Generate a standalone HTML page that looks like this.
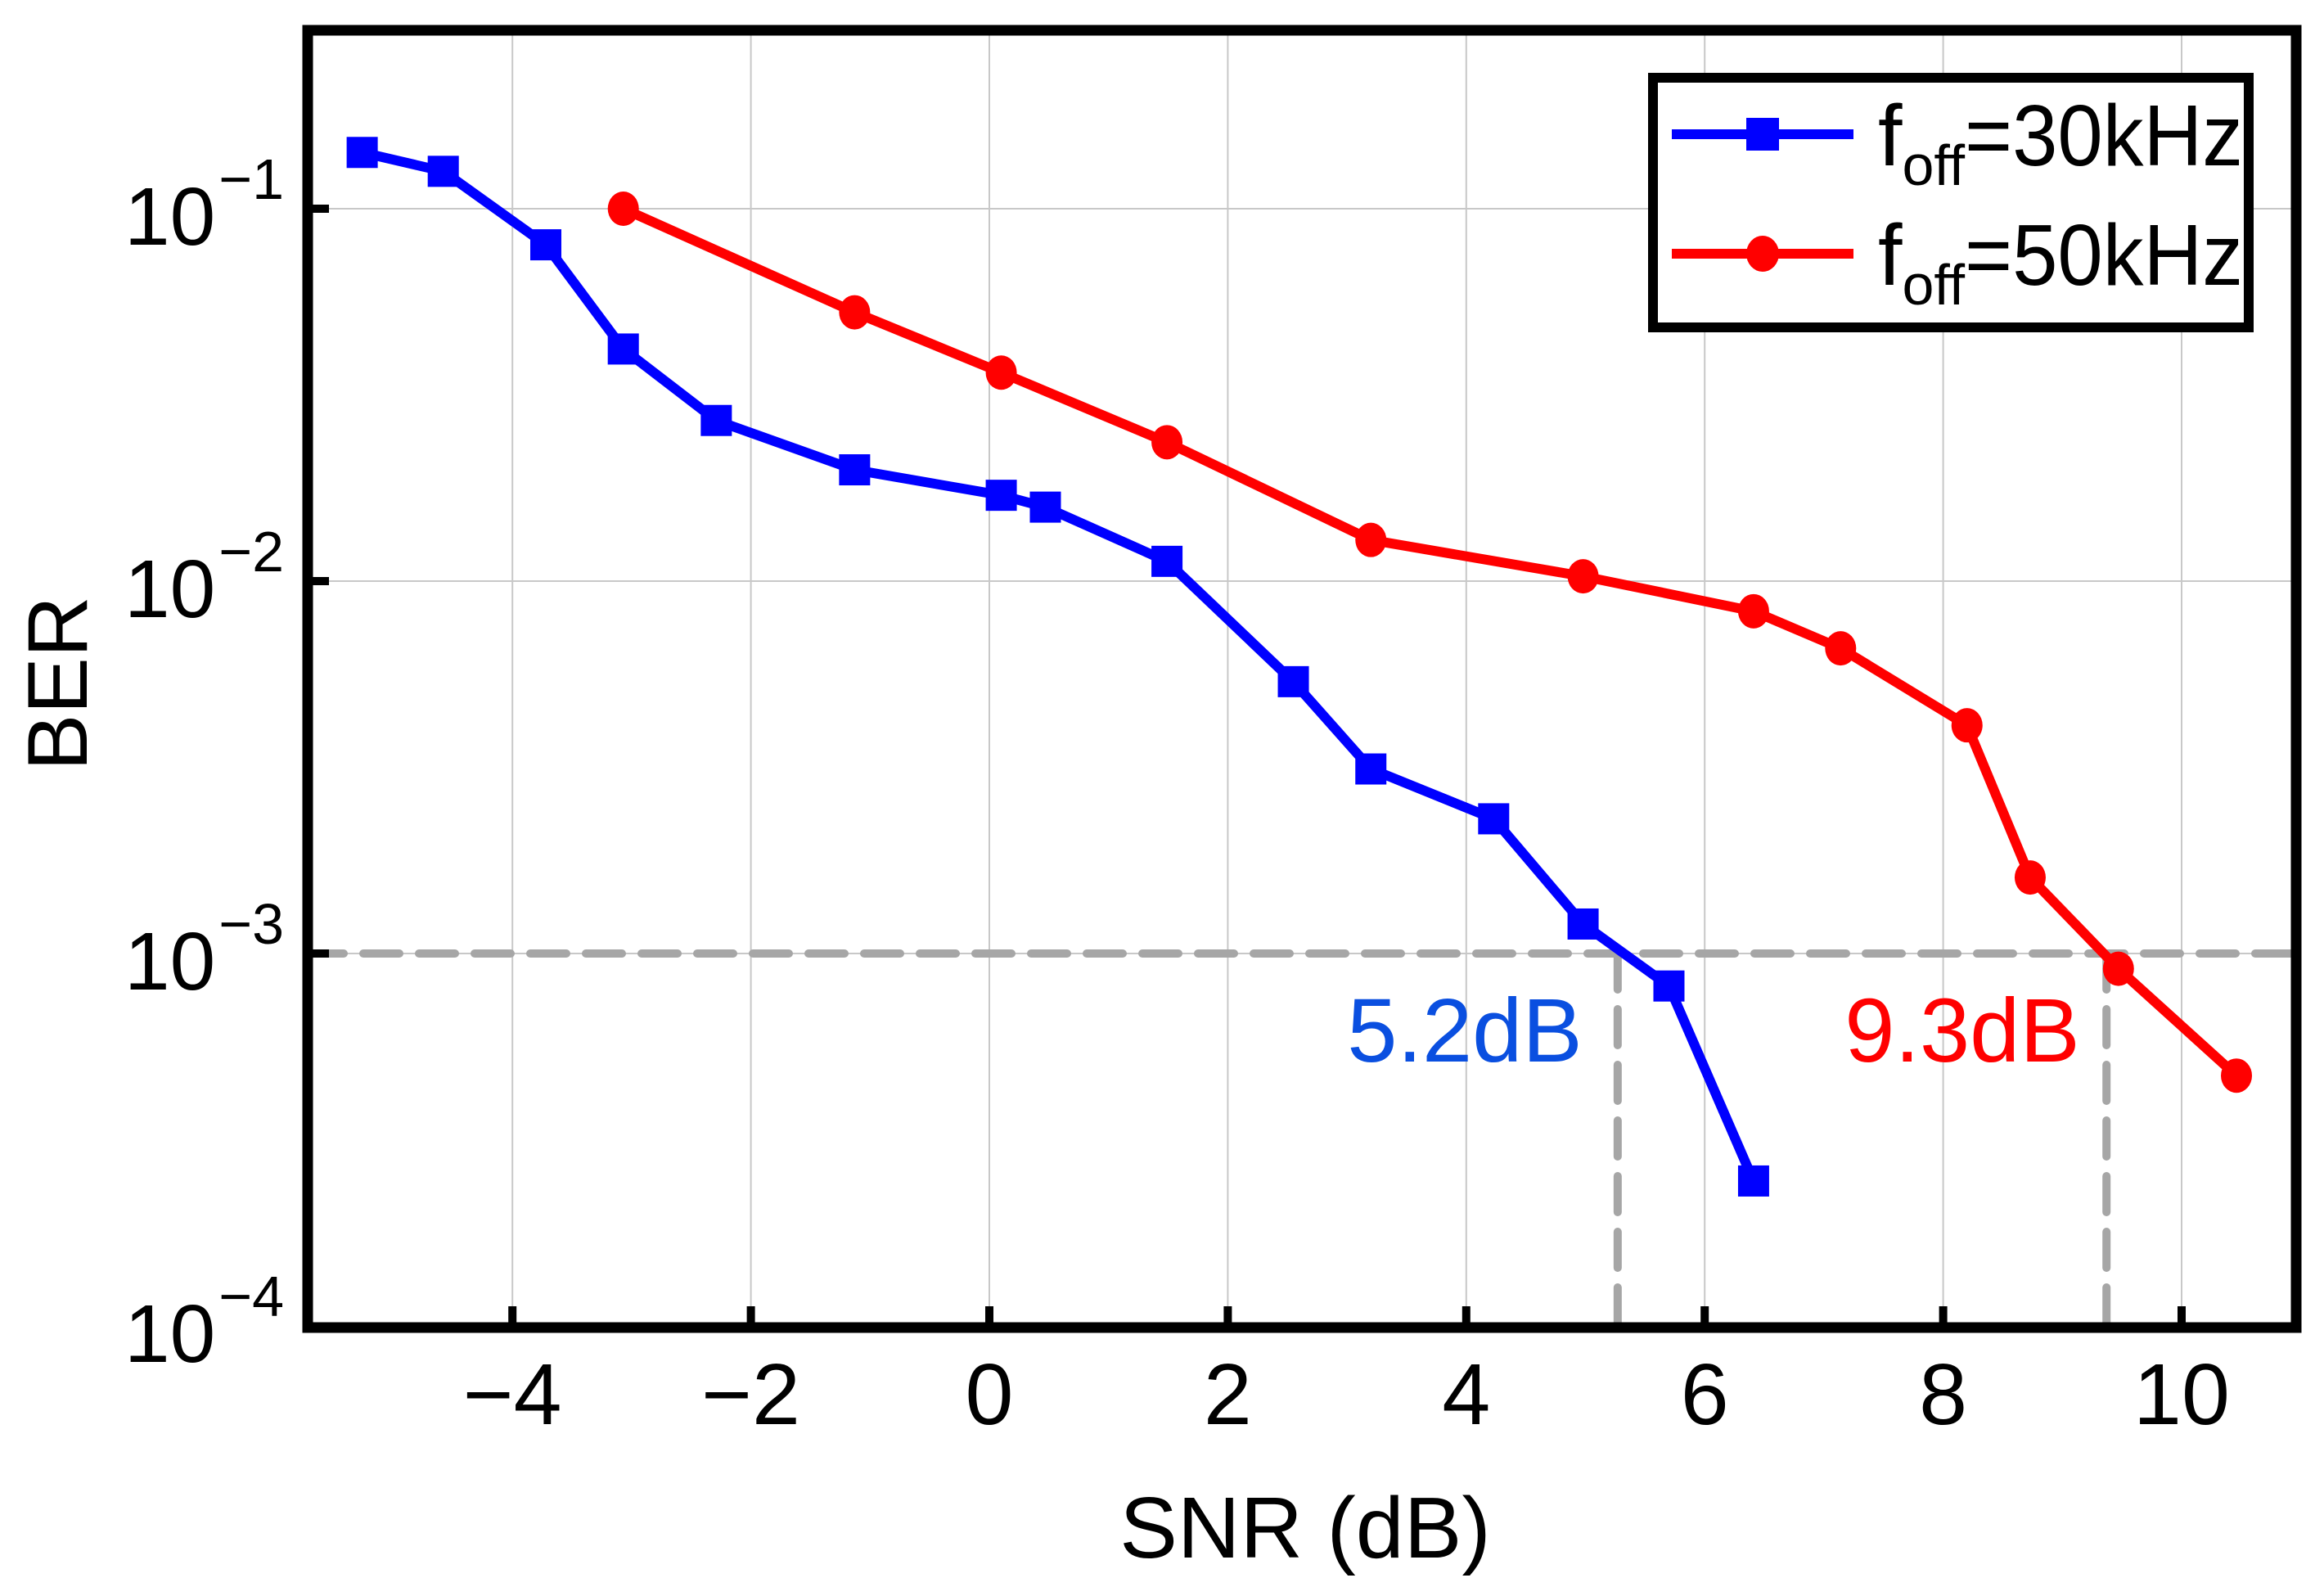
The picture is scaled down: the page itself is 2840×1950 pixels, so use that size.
<!DOCTYPE html>
<html><head><meta charset="utf-8"><style>
html,body{margin:0;padding:0;background:#fff;}
svg{display:block;font-family:"Liberation Sans",Arial,sans-serif;}
</style></head><body>
<svg id="chart" width="2840" height="1950" viewBox="0 0 2840 1950" xmlns="http://www.w3.org/2000/svg">
<g id="grid"></g>
<g id="ref"></g>
<g id="series"></g>
<g id="axes"></g>
<text x="0" y="0" transform="translate(106,835) rotate(-90)" text-anchor="middle" font-size="104">BER</text>
<text x="1595" y="1903" text-anchor="middle" font-size="106">SNR (dB)</text>
<text x="1790" y="1297" text-anchor="middle" font-size="110" fill="#0a4fe0">5.2dB</text>
<text x="2398" y="1297" text-anchor="middle" font-size="110" fill="#ff0000">9.3dB</text>
<g>
  <rect x="2020" y="95" width="728" height="305" fill="#fff" stroke="#000" stroke-width="12"/>
  <g>
    <line x1="2043" y1="164" x2="2265" y2="164" stroke="#0000ff" stroke-width="12"/>
    <rect x="2134" y="144" width="40" height="40" fill="#0000ff"/>
    <text x="2295" y="202" font-size="106">f<tspan font-size="70" dy="24">off</tspan><tspan dy="-24" textLength="340" lengthAdjust="spacingAndGlyphs">=30kHz</tspan></text>
  </g>
  <g>
    <line x1="2043" y1="310" x2="2265" y2="310" stroke="#ff0000" stroke-width="12"/>
    <ellipse cx="2154" cy="310" rx="20" ry="22" fill="#ff0000"/>
    <text x="2295" y="348" font-size="106">f<tspan font-size="70" dy="24">off</tspan><tspan dy="-24" textLength="340" lengthAdjust="spacingAndGlyphs">=50kHz</tspan></text>
  </g>
</g>
</svg>
<script>
const snr30 = [-5.26,-4.58,-3.72,-3.07,-2.29,-1.13,0.10,0.47,1.49,2.55,3.20,4.23,4.98,5.70,6.41];
const ber30 = [0.1416,0.126,0.080,0.042,0.027,0.0199,0.0170,0.0158,0.0113,0.00537,0.00313,0.0023,0.0012,0.000818,0.000245];
const snr50 = [-3.07,-1.13,0.10,1.49,3.20,4.98,6.41,7.14,8.20,8.73,9.47,10.46];
const ber50 = [0.1,0.0527,0.0363,0.0236,0.0129,0.0103,0.0083,0.0066,0.0041,0.0016,0.00091,0.00047];
const xTicks = [-4,-2,0,2,4,6,8,10];
const yTickExps = [-1,-2,-3,-4];
const thresholdBer = 0.001;
const crossings = [5.27,9.37];

const L=376,R=2806,T=37,B=1622;
const X0=1209, XU=145.7;
const Y4=1620, DEC=455;
const sx = v => X0 + v*XU;
const sy = v => Y4 - (Math.log10(v)+4)*DEC;
const NS="http://www.w3.org/2000/svg";
function mk(tag, attrs, parent){const e=document.createElementNS(NS,tag);for(const k in attrs)e.setAttribute(k,attrs[k]);parent.appendChild(e);return e;}
const grid=document.getElementById('grid'), axes=document.getElementById('axes'), ser=document.getElementById('series'), ref=document.getElementById('ref');

xTicks.forEach(t=>{
  const x=sx(t);
  const g=mk('line',{x1:x,y1:T,x2:x,y2:B,stroke:'#c8c8c8','stroke-width':2},grid);
  
  
  const tk=mk('line',{x1:x,y1:B,x2:x,y2:B-26,stroke:'#000','stroke-width':10},axes);
  
  
  const lb=mk('text',{x:x,y:1740,'text-anchor':'middle','font-size':106},axes);
  
  
  lb.textContent = t<0 ? '\u2212'+(-t) : String(t);
});
yTickExps.forEach(e=>{
  const y=sy(Math.pow(10,e));
  if(e>-4){
    const g=mk('line',{x1:L,y1:y,x2:R,y2:y,stroke:'#c8c8c8','stroke-width':2},grid);
    
    
    const tk=mk('line',{x1:L,y1:y,x2:L+26,y2:y,stroke:'#000','stroke-width':10},axes);
    
    
  }
  const lb=mk('text',{x:152,y:y+44,'font-size':100},axes);
  
  
  lb.textContent='10';
  const ex=mk('tspan',{'font-size':70,dy:-56,dx:4},lb);
  ex.textContent='\u2212'+(-e);
});
const fr=mk('rect',{x:L,y:T,width:R-L,height:B-T,fill:'none',stroke:'#000','stroke-width':13},axes);



const hy=sy(thresholdBer);
const hl=mk('line',{x1:L,y1:hy,x2:R,y2:hy,stroke:'#a6a6a6','stroke-width':10,'stroke-dasharray':'44 24','stroke-linecap':'round'},ref);


crossings.forEach(c=>{
  const v=mk('line',{x1:sx(c),y1:hy,x2:sx(c),y2:B+10,stroke:'#a6a6a6','stroke-width':10,'stroke-dasharray':'44 24','stroke-linecap':'round'},ref);
  
  
});

function drawSeries(xs,ys,color,marker,name){
  const pts=xs.map((x,i)=>sx(x)+','+sy(ys[i])).join(' ');
  const pl=mk('polyline',{points:pts,fill:'none',stroke:color,'stroke-width':12,'stroke-linejoin':'miter'},ser);
  
  
  xs.forEach((x,i)=>{
    let m;
    if(marker==='sq') m=mk('rect',{x:sx(x)-19,y:sy(ys[i])-19,width:38,height:38,fill:color},ser);
    else m=mk('ellipse',{cx:sx(x),cy:sy(ys[i]),rx:19,ry:21,fill:color},ser);
    
    
  });
}
drawSeries(snr50,ber50,'#ff0000','ci','series-50khz');
drawSeries(snr30,ber30,'#0000ff','sq','series-30khz');
</script>
</body></html>
